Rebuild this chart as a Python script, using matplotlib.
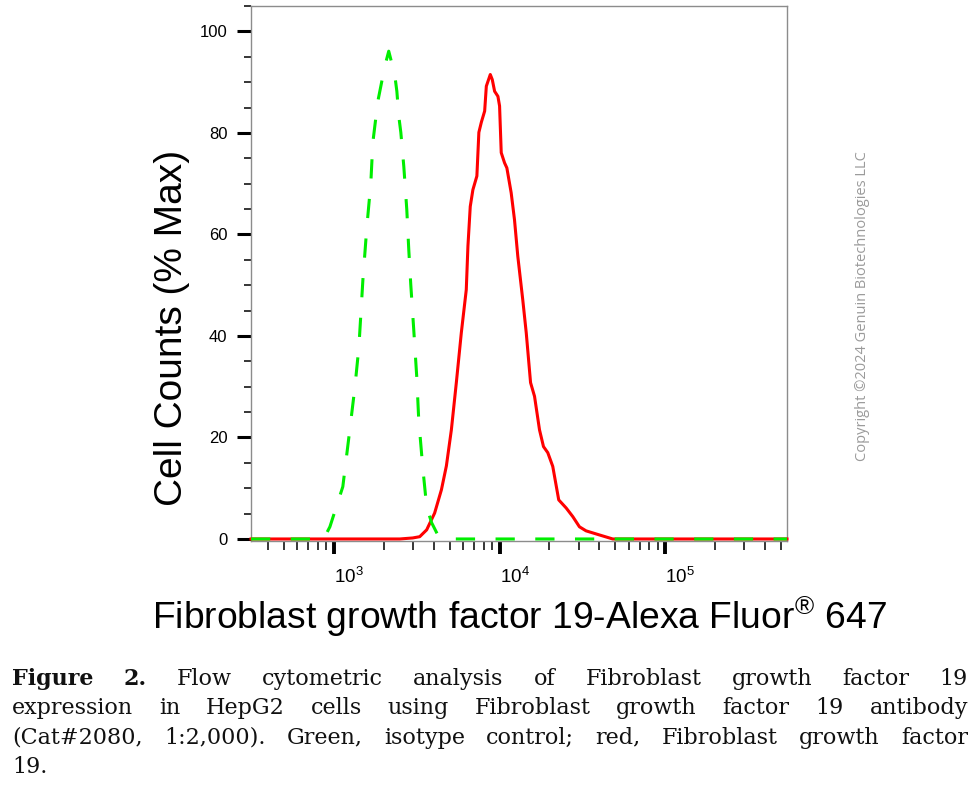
import numpy as np
import matplotlib
matplotlib.use('Agg')
import matplotlib.pyplot as plt
from matplotlib.ticker import FixedLocator, NullFormatter

plt.rcParams['mathtext.fontset'] = 'custom'
plt.rcParams['mathtext.rm'] = 'Liberation Sans'
plt.rcParams['mathtext.it'] = 'Liberation Sans'

# isotype control (green, dashed)
iso_x = [316, 802, 883, 946, 1132, 1247, 1340, 1416, 1496, 1581, 1671, 1718, 1841, 2028, 2143,
         2328, 2399, 2466, 2535, 2642, 2754, 2831, 2911, 3034, 3162, 3251, 3436, 3631, 3890,
         4236, 5000, 543000]
iso_y = [0, 0, 0.5, 2.4, 10.3, 21.5, 30, 37.9, 51, 61.5, 70.2, 78.1, 86.2, 93.1, 96.1,
         91.5, 88.2, 83.2, 80.1, 73.4, 64.9, 57, 50.1, 41.2, 32, 23.5, 14.2, 6.3, 3.2,
         0.8, 0, 0]

# FGF19 stained (red)
fgf_x = [316, 2500, 2992, 3296, 3631, 4055, 4457, 4775, 5117, 5483, 5875, 6295, 6442, 6653,
         6902, 7295, 7499, 7762, 8128, 8318, 8790, 9036, 9333, 9772, 10000, 10233, 10715,
         11066, 11749, 12303, 12882, 13804, 14488, 15382, 16255, 17418, 18408, 19543, 20941,
         22751, 25235, 27669, 30339, 33266, 39994, 48195, 543000]
fgf_y = [0, 0, 0.2, 0.45, 1.8, 5.1, 9.7, 14.4, 21.5, 30.8, 40.6, 49.1, 57.7, 65.5,
         68.8, 71.5, 80.1, 82.1, 84.3, 89.2, 91.5, 90.5, 88.2, 87.2, 85.3, 76.1, 74.1,
         73.1, 68.2, 62.9, 55.7, 47.1, 40.6, 30.8, 28.1, 21.5, 18.2, 17.0, 14.3,
         7.7, 6.1, 4.4, 2.4, 1.6, 0.8, 0, 0]

y_major = [0, 20, 40, 60, 80, 100]
x_major = [1e3, 1e4, 1e5]
x_labels = ['$10^3$', '$10^4$', '$10^5$']

caption = [
    "Figure 2. Flow cytometric analysis of Fibroblast growth factor 19",
    "expression in HepG2 cells using Fibroblast growth factor 19 antibody",
    "(Cat#2080, 1:2,000). Green, isotype control; red, Fibroblast growth factor",
    "19.",
]

fig = plt.figure(figsize=(9.8, 7.86), dpi=100)
ax = fig.add_axes([251/980, 1-541/786, 536/980, 535/786])

ax.plot(fgf_x, fgf_y, color='#ff0000', lw=2.2, clip_on=False, zorder=3)
ax.plot(iso_x, iso_y, color='#00ee00', lw=2.2, dashes=(6.3, 6.7), clip_on=False, zorder=4)

ax.set_xscale('log')
ax.set_xlim(316, 543000)
ax.set_ylim(-0.4, 105)

ax.xaxis.set_major_locator(FixedLocator(x_major))
ax.set_xticklabels(x_labels, ha='left')
minors = [m * 10**e for e in range(2, 6) for m in range(2, 10)]
ax.xaxis.set_minor_locator(FixedLocator([v for v in minors if 316 < v < 543000]))
ax.xaxis.set_minor_formatter(NullFormatter())
ax.yaxis.set_major_locator(FixedLocator(y_major))
ax.yaxis.set_minor_locator(FixedLocator(list(range(5, 106, 5))))

ax.tick_params(axis='x', which='major', length=9.5, width=2.8, pad=9, labelsize=13.5)
ax.tick_params(axis='x', which='minor', length=6.5, width=1.1)
ax.tick_params(axis='y', which='major', length=10, width=2.2, pad=7, labelsize=12)
ax.tick_params(axis='y', which='minor', length=5, width=1.1)
for lab in ax.get_yticklabels() + ax.get_xticklabels():
    lab.set_fontfamily('Liberation Sans')
for sp in ax.spines.values():
    sp.set_color('#8c8c8c')
    sp.set_linewidth(1.0)

fig.text(172/980, 1-328/786, 'Cell Counts (% Max)', rotation=90, ha='center', va='center',
         fontsize=28, family='Liberation Sans')
fig.text(519/980, 1-629/786, r'Fibroblast growth factor 19-Alexa Fluor$^{\circledR}$ 647',
         ha='center', va='baseline', fontsize=26.8, family='Liberation Sans')
fig.text(862/980, 1-306/786, 'Copyright \u00a92024 Genuin Biotechnologies LLC', rotation=90,
         ha='center', va='center', fontsize=10.5, family='Open Sans', color='#9a9a9a')

# justified caption
renderer = fig.canvas.get_renderer()
left, right = 12, 968
for i, line in enumerate(caption):
    words = line.split(' ')
    base = 1 - (685 + 29.3*i)/786
    texts = []
    for j, w in enumerate(words):
        bold = (i == 0 and j < 2)
        t = fig.text(0, base, w, fontsize=16, family='DejaVu Serif', va='baseline',
                     weight='bold' if bold else 'normal', color='#111111')
        texts.append(t)
    widths = [t.get_window_extent(renderer).width for t in texts]
    if i < len(caption) - 1 and len(words) > 1:
        gap = (right - left - sum(widths)) / (len(words) - 1)
    else:
        gap = 6
    x = left
    for t, w in zip(texts, widths):
        t.set_x(x/980)
        x += w + gap

fig.savefig('out.png', dpi=100)
